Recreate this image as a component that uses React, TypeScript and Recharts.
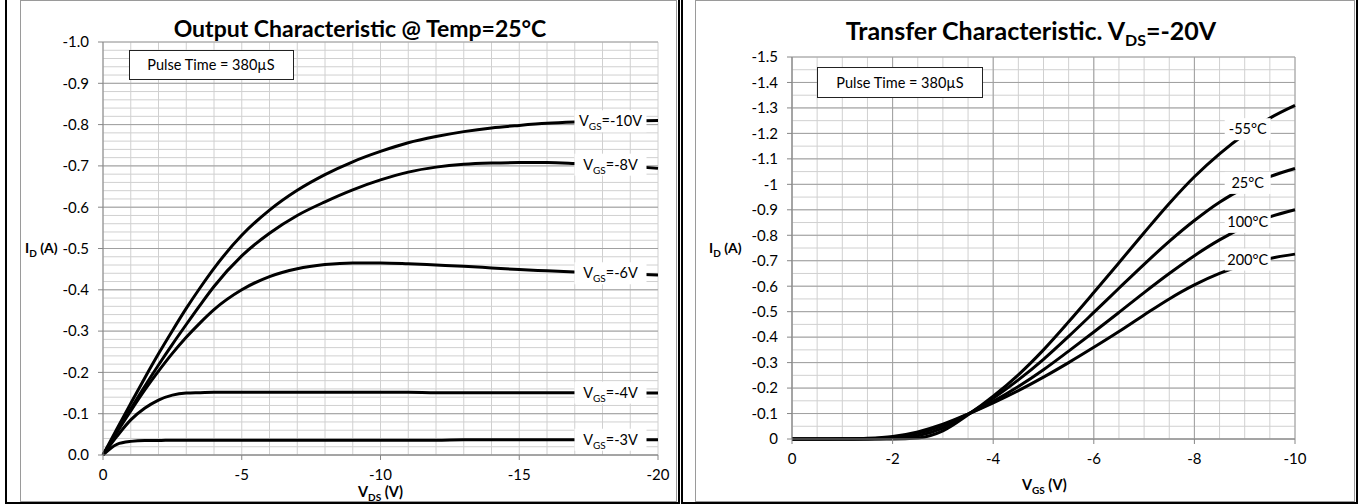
import { LineChart, Line, XAxis, YAxis, CartesianGrid, LabelList } from 'recharts';

// ---- Output characteristic (left) ----
const VDS = [0, -0.5, -1, -1.5, -2, -2.5, -3, -3.5, -4, -5, -6, -7, -8, -9, -10, -11, -12, -13, -14, -15, -16, -17, -18, -19, -20];
const ID_VGS_10 = [0, -0.063, -0.125, -0.186, -0.245, -0.301, -0.355, -0.405, -0.452, -0.532, -0.593, -0.641, -0.679, -0.71, -0.735, -0.756, -0.771, -0.783, -0.792, -0.798, -0.803, -0.806, -0.808, -0.809, -0.81];
const ID_VGS_8 = [0, -0.057, -0.112, -0.166, -0.218, -0.268, -0.316, -0.363, -0.408, -0.482, -0.537, -0.58, -0.613, -0.642, -0.666, -0.685, -0.697, -0.704, -0.707, -0.708, -0.708, -0.706, -0.703, -0.699, -0.694];
const ID_VGS_6 = [0, -0.055, -0.107, -0.157, -0.203, -0.246, -0.285, -0.32, -0.352, -0.4, -0.432, -0.451, -0.461, -0.465, -0.465, -0.463, -0.46, -0.457, -0.453, -0.449, -0.446, -0.443, -0.44, -0.438, -0.436];
const ID_VGS_4 = [0, -0.045, -0.085, -0.113, -0.133, -0.145, -0.15, -0.151, -0.152, -0.152, -0.152, -0.152, -0.152, -0.152, -0.152, -0.152, -0.151, -0.151, -0.151, -0.151, -0.151, -0.151, -0.151, -0.15, -0.15];
const ID_VGS_3 = [0, -0.026, -0.033, -0.035, -0.035, -0.036, -0.036, -0.036, -0.036, -0.036, -0.036, -0.036, -0.036, -0.036, -0.036, -0.036, -0.036, -0.037, -0.037, -0.037, -0.037, -0.037, -0.037, -0.037, -0.037];
const OUT_SERIES = [
  { key: 'v10', name: '-10V', values: ID_VGS_10 },
  { key: 'v8', name: '-8V', values: ID_VGS_8 },
  { key: 'v6', name: '-6V', values: ID_VGS_6 },
  { key: 'v4', name: '-4V', values: ID_VGS_4 },
  { key: 'v3', name: '-3V', values: ID_VGS_3 },
];
const OUT_X_TICKS = [0, -5, -10, -15, -20];
const OUT_Y_TICKS = [-1, -0.9, -0.8, -0.7, -0.6, -0.5, -0.4, -0.3, -0.2, -0.1, 0];
const OUT_LABEL_AT = -18;

// ---- Transfer characteristic (right) ----
const VGS = [0, -0.5, -1, -1.5, -2, -2.5, -3, -3.5, -4, -4.5, -5, -5.5, -6, -6.5, -7, -7.5, -8, -8.5, -9, -9.5, -10];
const ID_T_M55 = [0, 0, 0, 0, 0, -0.004, -0.032, -0.095, -0.168, -0.252, -0.35, -0.46, -0.575, -0.692, -0.81, -0.925, -1.03, -1.12, -1.197, -1.26, -1.31];
const ID_T_25 = [0, 0, 0, 0, -0.003, -0.013, -0.043, -0.097, -0.16, -0.232, -0.313, -0.403, -0.497, -0.592, -0.686, -0.776, -0.858, -0.93, -0.986, -1.03, -1.062];
const ID_T_100 = [0, 0, 0, -0.001, -0.006, -0.022, -0.053, -0.098, -0.148, -0.206, -0.272, -0.345, -0.42, -0.497, -0.575, -0.65, -0.72, -0.782, -0.833, -0.872, -0.9];
const ID_T_200 = [0, 0, -0.001, -0.003, -0.01, -0.028, -0.058, -0.098, -0.142, -0.19, -0.243, -0.3, -0.36, -0.422, -0.487, -0.55, -0.605, -0.65, -0.685, -0.709, -0.726];
const TR_SERIES = [
  { key: 'tm55', name: '-55°C', values: ID_T_M55 },
  { key: 't25', name: '25°C', values: ID_T_25 },
  { key: 't100', name: '100°C', values: ID_T_100 },
  { key: 't200', name: '200°C', values: ID_T_200 },
];
const TR_X_TICKS = [0, -2, -4, -6, -8, -10];
const TR_Y_TICKS = [-1.5, -1.4, -1.3, -1.2, -1.1, -1, -0.9, -0.8, -0.7, -0.6, -0.5, -0.4, -0.3, -0.2, -0.1, 0];
const TR_LABEL_AT = -9;

const outData = VDS.map((v, i) => {
  const row: Record<string, number> = { vds: v };
  OUT_SERIES.forEach((s) => (row[s.key] = s.values[i]));
  return row;
});
const trData = VGS.map((v, i) => {
  const row: Record<string, number> = { vgs: v };
  TR_SERIES.forEach((s) => (row[s.key] = s.values[i]));
  return row;
});

// grid helper (gridline positions only)
const steps = (from: number, to: number, step: number) => {
  const out: number[] = [];
  const n = Math.round((to - from) / step);
  for (let i = 0; i <= n; i++) out.push(Number((from + i * step).toFixed(4)));
  return out;
};

const FONT = 'Lato, "Open Sans", sans-serif';
const MINOR = '#d0d0d0';
const MAJOR = '#a0a0a0';
const AXIS = '#868686';
const tickStyle = { fontSize: 15, fill: '#000', fontFamily: FONT };

function SubText({ main, sub, rest, size, subSize, ...props }: any) {
  return (
    <text {...props} fontSize={size}>
      <tspan>{main}</tspan>
      <tspan fontSize={subSize} dy={subSize * 0.4}>{sub}</tspan>
      <tspan dy={-subSize * 0.4}>{rest}</tspan>
    </text>
  );
}

const curveLabel = (targetIndex: number, w: number, dx: number, dy: number, render: () => any) => (props: any) => {
  const { x, y, index } = props;
  if (index !== targetIndex) return <g />;
  return (
    <g>
      <rect x={x + dx - w / 2} y={y + dy - 11} width={w} height={22} fill="#fff" />
      <g transform={`translate(${x + dx},${y + dy + 5})`}>{render()}</g>
    </g>
  );
};

export default function App() {
  const outIdx = VDS.indexOf(OUT_LABEL_AT);
  const trIdx = VGS.indexOf(TR_LABEL_AT);
  return (
    <div style={{ position: 'absolute', left: 0, top: 0, width: 1361, height: 504, background: '#fff', overflow: 'hidden', fontFamily: FONT }}>
      {/* panel frames */}
      <div style={{ position: 'absolute', left: 20, top: 0, width: 657, height: 502, border: '1px solid #9a9a9a', boxSizing: 'border-box' }} />
      <div style={{ position: 'absolute', left: 695, top: 0, width: 660, height: 502, border: '1px solid #9a9a9a', boxSizing: 'border-box' }} />
      <div style={{ position: 'absolute', left: 5, top: -3, width: 675, height: 507, border: '2px solid #000', boxSizing: 'border-box' }} />
      <div style={{ position: 'absolute', left: 681, top: -3, width: 677, height: 507, border: '2px solid #000', boxSizing: 'border-box' }} />

      <div style={{ position: 'absolute', left: 0, top: 0 }}>
        <LineChart width={680} height={504} data={outData} margin={{ top: 42, right: 22, bottom: 19, left: 43 }}>
          <CartesianGrid stroke={MINOR} horizontalValues={steps(-1, 0, 0.02)} verticalValues={steps(-20, 0, 1)} />
          <CartesianGrid stroke={MAJOR} horizontalValues={OUT_Y_TICKS} vertical={false} />
          <XAxis
            type="number"
            dataKey="vds"
            domain={[-20, 0]}
            reversed
            ticks={OUT_X_TICKS}
            interval={0}
            height={30}
            tickSize={5}
            tickMargin={9}
            stroke={AXIS}
            tick={tickStyle}
          />
          <YAxis
            type="number"
            domain={[-1, 0]}
            reversed
            ticks={OUT_Y_TICKS}
            interval={0}
            width={60}
            tickSize={5}
            tickMargin={9}
            stroke={AXIS}
            tick={tickStyle}
            tickFormatter={(v: number) => v.toFixed(1)}
          />
          {OUT_SERIES.map((s) => (
            <Line key={s.key} dataKey={s.key} type="monotone" stroke="#000" strokeWidth={3} dot={false} isAnimationActive={false}>
              <LabelList
                content={curveLabel(outIdx, 72, 8, 0, () => (
                  <SubText main="V" sub="GS" rest={`=${s.name}`} size={14.5} subSize={10} textAnchor="middle" fontFamily={FONT} fill="#000" />
                ))}
              />
            </Line>
          ))}
        </LineChart>
      </div>

      <div style={{ position: 'absolute', left: 680, top: 0 }}>
        <LineChart width={681} height={504} data={trData} margin={{ top: 57, right: 66, bottom: 35, left: 52 }}>
          <CartesianGrid stroke={MINOR} horizontalValues={steps(-1.5, 0, 0.05)} verticalValues={steps(-10, 0, 0.5)} />
          <CartesianGrid stroke={MAJOR} horizontalValues={TR_Y_TICKS} verticalValues={TR_X_TICKS} />
          <XAxis
            type="number"
            dataKey="vgs"
            domain={[-10, 0]}
            reversed
            ticks={TR_X_TICKS}
            interval={0}
            height={30}
            tickSize={5}
            tickMargin={9}
            stroke={AXIS}
            tick={tickStyle}
          />
          <YAxis
            type="number"
            domain={[-1.5, 0]}
            reversed
            ticks={TR_Y_TICKS}
            interval={0}
            width={60}
            tickSize={5}
            tickMargin={9}
            stroke={AXIS}
            tick={tickStyle}
            tickFormatter={(v: number) => String(Number(v.toFixed(1)))}
          />
          {TR_SERIES.map((s) => (
            <Line key={s.key} dataKey={s.key} type="monotone" stroke="#000" strokeWidth={3} dot={false} isAnimationActive={false}>
              <LabelList
                content={curveLabel(trIdx, 46, 3, -5, () => (
                  <text textAnchor="middle" fontSize={14.5} fontFamily={FONT} fill="#000">{s.name}</text>
                ))}
              />
            </Line>
          ))}
        </LineChart>
      </div>

      {/* titles, axis titles and notes */}
      <svg width={1361} height={504} style={{ position: 'absolute', left: 0, top: 0, pointerEvents: 'none' }} fontFamily={FONT}>
        <text x={360} y={37} textAnchor="middle" fontSize={23} fontWeight="bold">Output Characteristic @ Temp=25°C</text>
        <SubText x={1031} y={40} textAnchor="middle" fontWeight="bold" main="Transfer Characteristic. V" sub="DS" rest="=-20V" size={25} subSize={16} />

        <SubText x={25} y={253} fontWeight="bold" main="I" sub="D" rest=" (A)" size={14} subSize={10} />
        <SubText x={709} y={253} fontWeight="bold" main="I" sub="D" rest=" (A)" size={14} subSize={10} />
        <SubText x={358} y={497} fontWeight="bold" main="V" sub="DS" rest=" (V)" size={14.5} subSize={10} />
        <SubText x={1022} y={490} fontWeight="bold" main="V" sub="GS" rest=" (V)" size={14.5} subSize={10} />

        <rect x={129.5} y={50.5} width={164} height={29} fill="#fff" stroke="#222" />
        <text x={211} y={70} textAnchor="middle" fontSize={14.5}>Pulse Time = 380µS</text>
        <rect x={817.5} y={67.5} width={165} height={30} fill="#fff" stroke="#222" />
        <text x={900} y={87.5} textAnchor="middle" fontSize={14.5}>Pulse Time = 380µS</text>
      </svg>
    </div>
  );
}
